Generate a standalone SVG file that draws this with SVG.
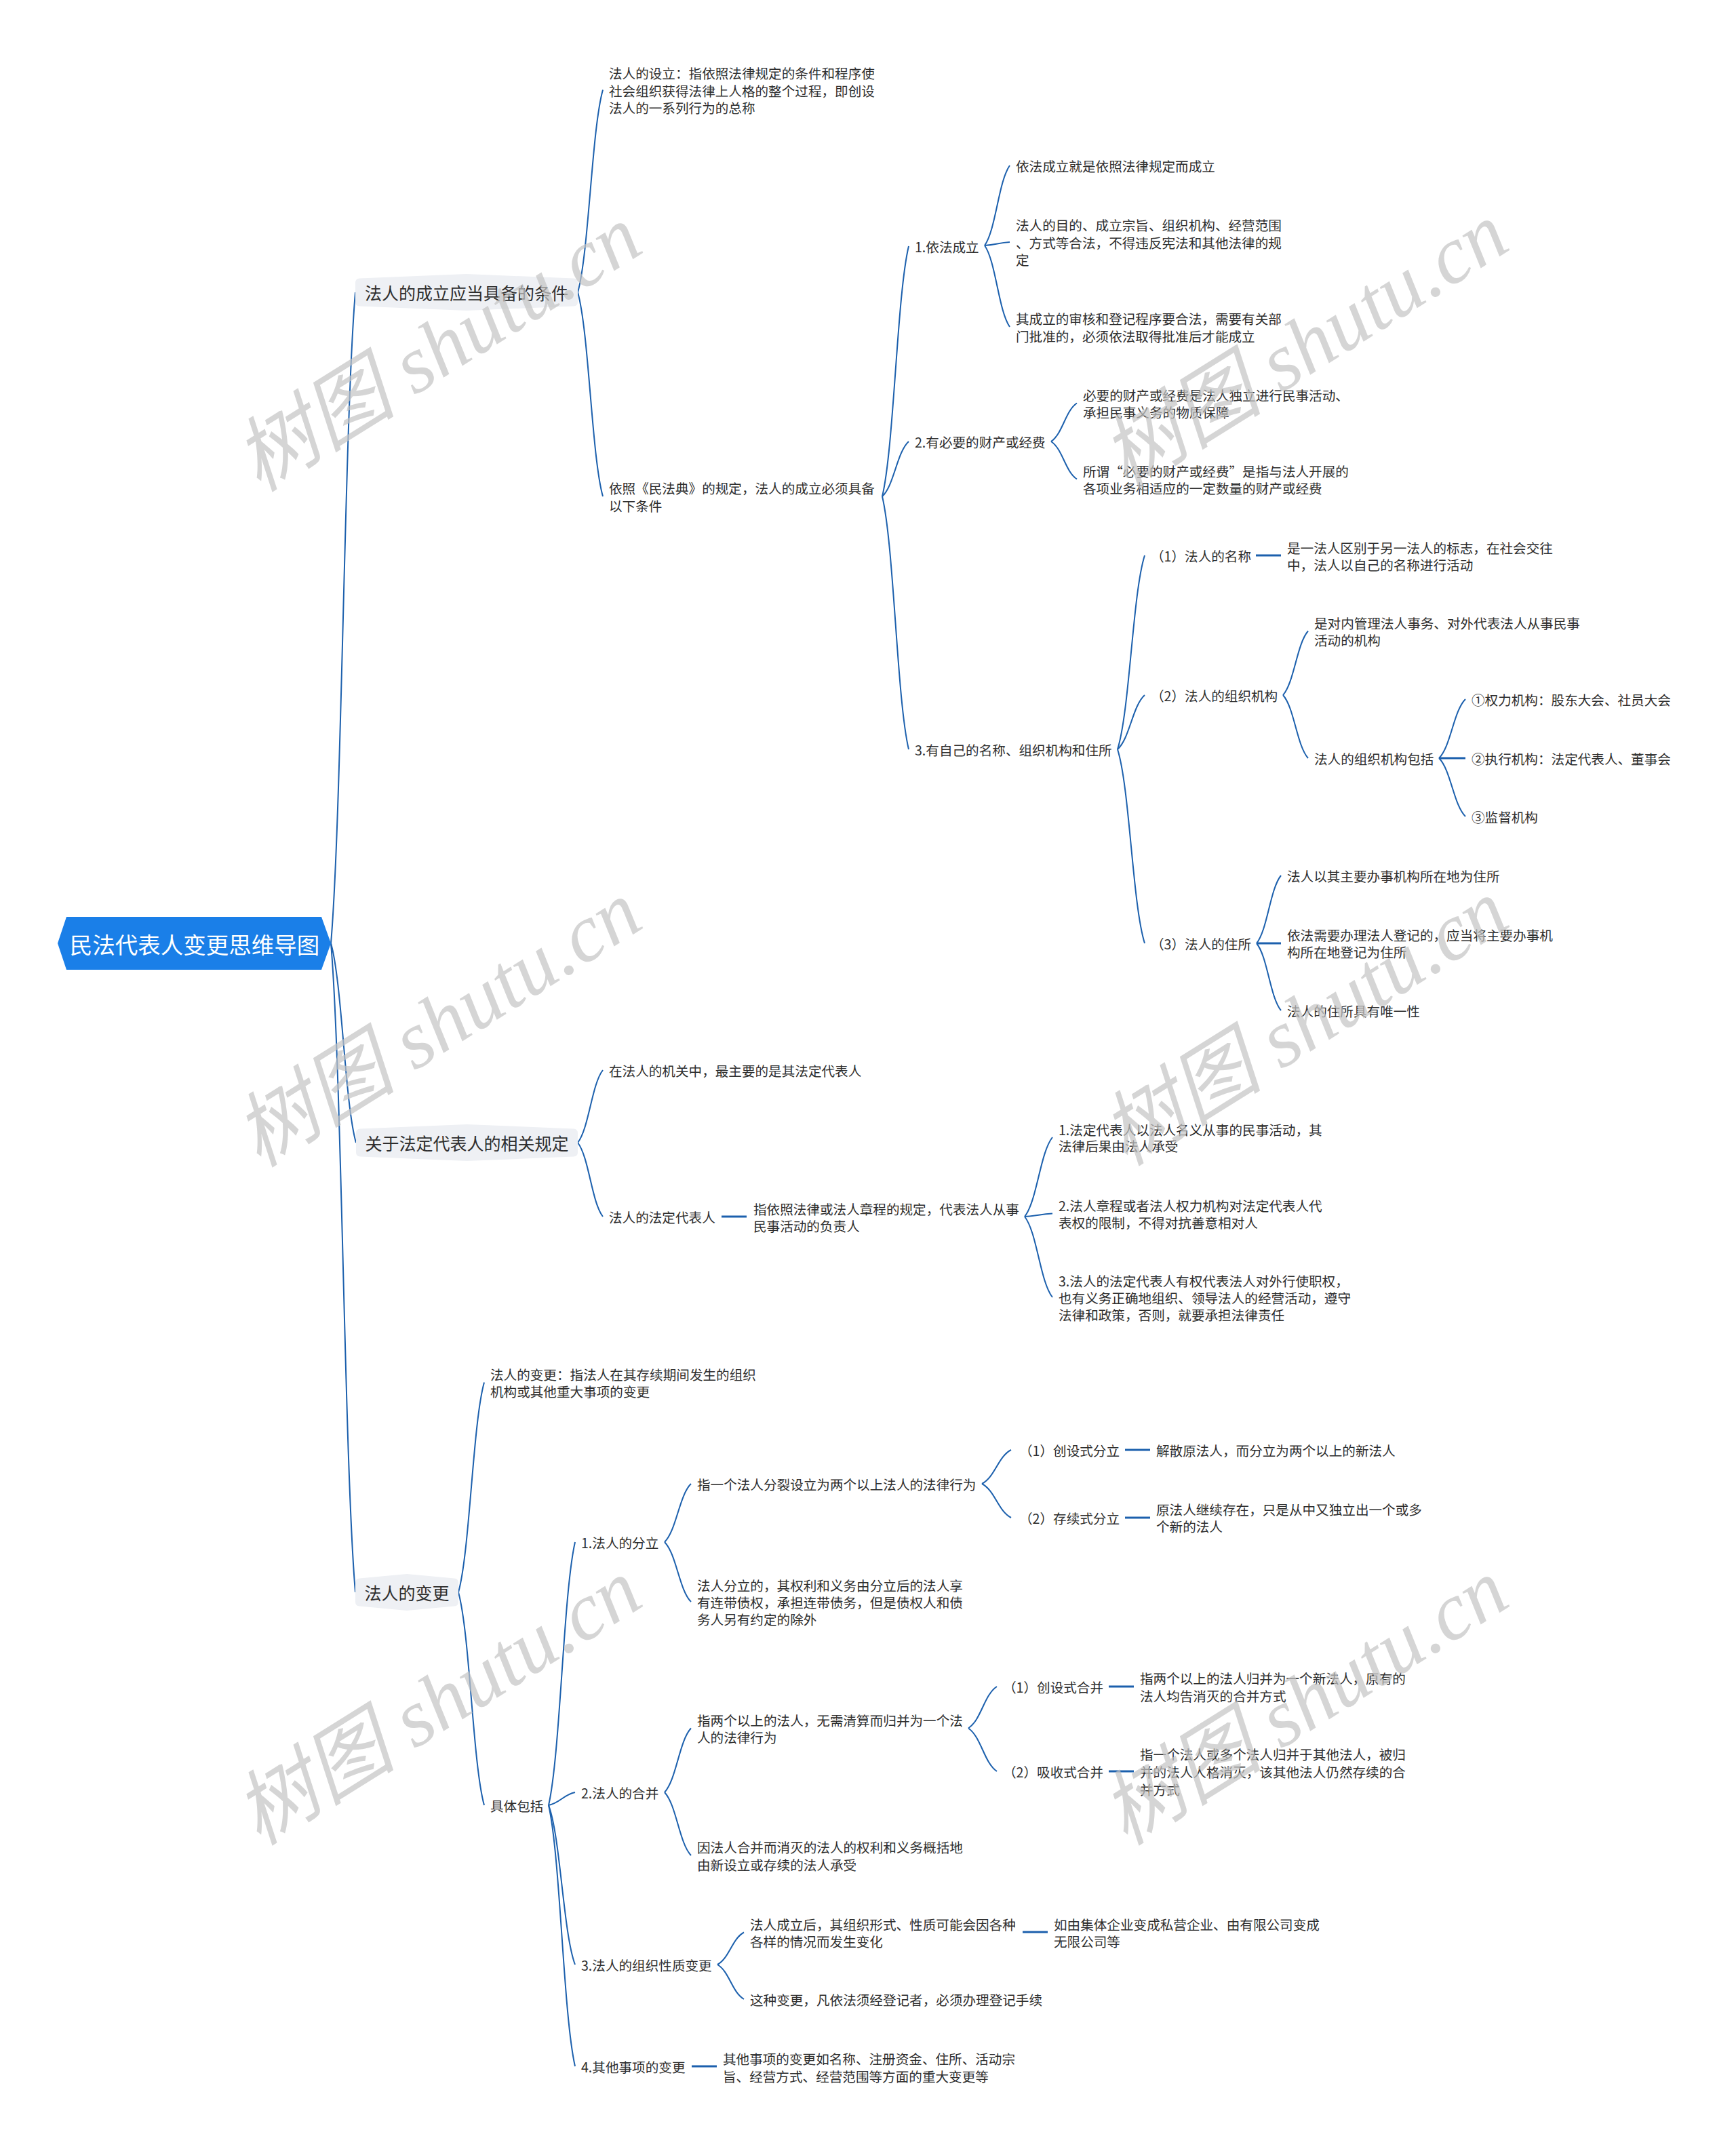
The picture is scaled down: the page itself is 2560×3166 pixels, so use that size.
<svg xmlns="http://www.w3.org/2000/svg" width="2560" height="3166" viewBox="0 0 2560 3166">
<style>
text{font-family:"Noto Sans CJK SC","Noto Sans",sans-serif;fill:#2e2e2e;dominant-baseline:central}
.t{font-size:19.6px}
.l1{font-size:25px;text-anchor:middle}
.root{font-size:33.5px;fill:#ffffff;text-anchor:middle}
.c path{fill:none;stroke:#1c60ad;stroke-width:2}
.c line{stroke:#1c60ad;stroke-width:3}
.box{fill:#eef0f4}
.wm{font-family:"Liberation Serif","Noto Sans CJK SC",serif;font-style:italic;font-size:120px;fill:#c4c4c4;opacity:0.7;text-anchor:middle}
</style>
<rect width="2560" height="3166" fill="#ffffff"/>
<g class="c" id="connectors">
<path d="M488,1391 C504.2,1199 507.8,623 524,431"/>
<path d="M488,1391 C504.65,1449.8 508.35,1626.2 525,1685"/>
<path d="M488,1391 C504.2,1582.4 507.8,2156.6 524,2348"/>
<path d="M852,431 C868.65,371.3 872.35,192.2 889,132.5"/>
<path d="M852,431 C868.65,491.2 872.35,671.8 889,732"/>
<path d="M1301,732 C1318.55,658.2 1322.45,436.8 1340,363"/>
<path d="M1301,732 C1318.55,715.8 1322.45,667.2 1340,651"/>
<path d="M1301,732 C1318.55,806.6 1322.45,1030.4 1340,1105"/>
<path d="M1452,362 C1468.65,338.4 1472.35,267.6 1489,244"/>
<path d="M1452,362 C1468.65,361 1472.35,358 1489,357"/>
<path d="M1452,362 C1468.65,386 1472.35,458 1489,482"/>
<path d="M1550,651 C1567.1,639.7 1570.9,605.8 1588,594.5"/>
<path d="M1550,651 C1567.1,662.1 1570.9,695.4 1588,706.5"/>
<path d="M1648,1105 C1666,1047.8 1670,876.2 1688,819"/>
<path d="M1648,1105 C1666,1089 1670,1041 1688,1025"/>
<path d="M1648,1105 C1666,1162.2 1670,1333.8 1688,1391"/>
<line x1="1852" y1="819" x2="1889" y2="819"/>
<path d="M1892,1025 C1908.65,1006.1 1912.35,949.4 1929,930.5"/>
<path d="M1892,1025 C1908.65,1043.6 1912.35,1099.4 1929,1118"/>
<path d="M2122,1118 C2139.55,1100.6 2143.45,1048.4 2161,1031"/>
<line x1="2122" y1="1118" x2="2161" y2="1118"/>
<path d="M2122,1118 C2139.55,1135.2 2143.45,1186.8 2161,1204"/>
<path d="M1853,1391 C1869.2,1371 1872.8,1311 1889,1291"/>
<line x1="1853" y1="1391" x2="1889" y2="1391"/>
<path d="M1853,1391 C1869.2,1410.8 1872.8,1470.2 1889,1490"/>
<path d="M852,1685 C868.65,1663.6 872.35,1599.4 889,1578"/>
<path d="M852,1685 C868.65,1706.8 872.35,1772.2 889,1794"/>
<line x1="1064" y1="1794" x2="1101" y2="1794"/>
<path d="M1511,1794 C1529.45,1770.6 1533.55,1700.4 1552,1677"/>
<path d="M1511,1794 C1529.45,1793.1 1533.55,1790.4 1552,1789.5"/>
<path d="M1511,1794 C1529.45,1817.8 1533.55,1889.2 1552,1913"/>
<path d="M676,2348 C693.1,2286.1 696.9,2100.4 714,2038.5"/>
<path d="M676,2348 C693.1,2410.8 696.9,2599.2 714,2662"/>
<path d="M809,2662 C826.55,2584.4 830.45,2351.6 848,2274"/>
<path d="M809,2662 C826.55,2658.2 830.45,2646.8 848,2643"/>
<path d="M809,2662 C826.55,2709 830.45,2850 848,2897"/>
<path d="M809,2662 C826.55,2739 830.45,2970 848,3047"/>
<path d="M980,2274 C997.55,2256.8 1001.45,2205.2 1019,2188"/>
<path d="M980,2274 C997.55,2291.6 1001.45,2344.4 1019,2362"/>
<path d="M1448,2188 C1467.35,2178 1471.65,2148 1491,2138"/>
<path d="M1448,2188 C1467.35,2198 1471.65,2228 1491,2238"/>
<line x1="1659" y1="2138" x2="1696" y2="2138"/>
<line x1="1659" y1="2238" x2="1696" y2="2238"/>
<path d="M980,2643 C997.55,2624.1 1001.45,2567.4 1019,2548.5"/>
<path d="M980,2643 C997.55,2661.6 1001.45,2717.4 1019,2736"/>
<path d="M1428,2548.5 C1446.9,2536.2 1451.1,2499.3 1470,2487"/>
<path d="M1428,2548.5 C1446.9,2561.2 1451.1,2599.3 1470,2612"/>
<line x1="1635" y1="2487" x2="1672" y2="2487"/>
<line x1="1635" y1="2612" x2="1672" y2="2612"/>
<path d="M1058,2897 C1075.55,2887.5 1079.45,2859 1097,2849.5"/>
<path d="M1058,2897 C1075.55,2907.2 1079.45,2937.8 1097,2948"/>
<line x1="1508" y1="2849" x2="1545" y2="2849"/>
<line x1="1020" y1="3047" x2="1057" y2="3047"/>
</g>
<g id="root">
<polygon points="85,1391 98,1352 474,1352 488,1391 474,1430 98,1430" fill="#1a7fe8"/>
<text class="root" x="287" y="1391">民法代表人变更思维导图</text>
</g>
<g id="n-A">
<path class="box" d="M524,417 Q524,411 530,410.5 L688,404 L846,410.5 Q852,411 852,417 L852,445 Q852,451 846,451.5 L688,458 L530,451.5 Q524,451 524,445 Z"/>
<text class="l1" x="688" y="431">法人的成立应当具备的条件</text>
</g>
<g id="n-B">
<path class="box" d="M525,1671 Q525,1665 531,1664.5 L688.5,1658 L846,1664.5 Q852,1665 852,1671 L852,1699 Q852,1705 846,1705.5 L688.5,1712 L531,1705.5 Q525,1705 525,1699 Z"/>
<text class="l1" x="688.5" y="1685">关于法定代表人的相关规定</text>
</g>
<g id="n-C">
<path class="box" d="M524,2334 Q524,2328 530,2327.5 L600,2321 L670,2327.5 Q676,2328 676,2334 L676,2362 Q676,2368 670,2368.5 L600,2375 L530,2368.5 Q524,2368 524,2362 Z"/>
<text class="l1" x="600" y="2348">法人的变更</text>
</g>
<g id="n-A1"><text class="t"><tspan x="898" y="107">法人的设立：指依照法律规定的条件和程序使</tspan><tspan x="898" y="133">社会组织获得法律上人格的整个过程，即创设</tspan><tspan x="898" y="158">法人的一系列行为的总称</tspan></text></g>
<g id="n-A2"><text class="t"><tspan x="898" y="719">依照《民法典》的规定，法人的成立必须具备</tspan><tspan x="898" y="745">以下条件</tspan></text></g>
<g id="n-A2a"><text class="t" x="1349" y="363">1.依法成立</text></g>
<g id="n-A2a1"><text class="t" x="1498" y="244">依法成立就是依照法律规定而成立</text></g>
<g id="n-A2a2"><text class="t"><tspan x="1498" y="331">法人的目的、成立宗旨、组织机构、经营范围</tspan><tspan x="1498" y="357">、方式等合法，不得违反宪法和其他法律的规</tspan><tspan x="1498" y="382">定</tspan></text></g>
<g id="n-A2a3"><text class="t"><tspan x="1498" y="469">其成立的审核和登记程序要合法，需要有关部</tspan><tspan x="1498" y="495">门批准的，必须依法取得批准后才能成立</tspan></text></g>
<g id="n-A2b"><text class="t" x="1349" y="651">2.有必要的财产或经费</text></g>
<g id="n-A2b1"><text class="t"><tspan x="1597" y="582">必要的财产或经费是法人独立进行民事活动、</tspan><tspan x="1597" y="607">承担民事义务的物质保障</tspan></text></g>
<g id="n-A2b2"><text class="t"><tspan x="1597" y="694">所谓“必要的财产或经费”是指与法人开展的</tspan><tspan x="1597" y="719">各项业务相适应的一定数量的财产或经费</tspan></text></g>
<g id="n-A2c"><text class="t" x="1349" y="1105">3.有自己的名称、组织机构和住所</text></g>
<g id="n-name"><text class="t" x="1697" y="819">（1）法人的名称</text></g>
<g id="n-name1"><text class="t"><tspan x="1898" y="807">是一法人区别于另一法人的标志，在社会交往</tspan><tspan x="1898" y="832">中，法人以自己的名称进行活动</tspan></text></g>
<g id="n-org"><text class="t" x="1697" y="1025">（2）法人的组织机构</text></g>
<g id="n-org1"><text class="t"><tspan x="1938" y="918">是对内管理法人事务、对外代表法人从事民事</tspan><tspan x="1938" y="943">活动的机构</tspan></text></g>
<g id="n-org2"><text class="t" x="1938" y="1118">法人的组织机构包括</text></g>
<g id="n-org2a"><text class="t" x="2170" y="1031">①权力机构：股东大会、社员大会</text></g>
<g id="n-org2b"><text class="t" x="2170" y="1118">②执行机构：法定代表人、董事会</text></g>
<g id="n-org2c"><text class="t" x="2170" y="1204">③监督机构</text></g>
<g id="n-dom"><text class="t" x="1697" y="1391">（3）法人的住所</text></g>
<g id="n-dom1"><text class="t" x="1898" y="1291">法人以其主要办事机构所在地为住所</text></g>
<g id="n-dom2"><text class="t"><tspan x="1898" y="1378">依法需要办理法人登记的，应当将主要办事机</tspan><tspan x="1898" y="1403">构所在地登记为住所</tspan></text></g>
<g id="n-dom3"><text class="t" x="1898" y="1490">法人的住所具有唯一性</text></g>
<g id="n-B1"><text class="t" x="898" y="1578">在法人的机关中，最主要的是其法定代表人</text></g>
<g id="n-B2"><text class="t" x="898" y="1794">法人的法定代表人</text></g>
<g id="n-B2a"><text class="t"><tspan x="1111" y="1782">指依照法律或法人章程的规定，代表法人从事</tspan><tspan x="1111" y="1807">民事活动的负责人</tspan></text></g>
<g id="n-B2a1"><text class="t"><tspan x="1561" y="1665">1.法定代表人以法人名义从事的民事活动，其</tspan><tspan x="1561" y="1689">法律后果由法人承受</tspan></text></g>
<g id="n-B2a2"><text class="t"><tspan x="1561" y="1777">2.法人章程或者法人权力机构对法定代表人代</tspan><tspan x="1561" y="1802">表权的限制，不得对抗善意相对人</tspan></text></g>
<g id="n-B2a3"><text class="t"><tspan x="1561" y="1888">3.法人的法定代表人有权代表法人对外行使职权，</tspan><tspan x="1561" y="1913">也有义务正确地组织、领导法人的经营活动，遵守</tspan><tspan x="1561" y="1938">法律和政策，否则，就要承担法律责任</tspan></text></g>
<g id="n-C1"><text class="t"><tspan x="723" y="2026">法人的变更：指法人在其存续期间发生的组织</tspan><tspan x="723" y="2051">机构或其他重大事项的变更</tspan></text></g>
<g id="n-C2"><text class="t" x="723" y="2662">具体包括</text></g>
<g id="n-split"><text class="t" x="857" y="2274">1.法人的分立</text></g>
<g id="n-split1"><text class="t" x="1028" y="2188">指一个法人分裂设立为两个以上法人的法律行为</text></g>
<g id="n-split1a"><text class="t" x="1503" y="2138">（1）创设式分立</text></g>
<g id="n-split1a1"><text class="t" x="1705" y="2138">解散原法人，而分立为两个以上的新法人</text></g>
<g id="n-split1b"><text class="t" x="1503" y="2238">（2）存续式分立</text></g>
<g id="n-split1b1"><text class="t"><tspan x="1705" y="2225">原法人继续存在，只是从中又独立出一个或多</tspan><tspan x="1705" y="2250">个新的法人</tspan></text></g>
<g id="n-split2"><text class="t"><tspan x="1028" y="2337">法人分立的，其权利和义务由分立后的法人享</tspan><tspan x="1028" y="2362">有连带债权，承担连带债务，但是债权人和债</tspan><tspan x="1028" y="2387">务人另有约定的除外</tspan></text></g>
<g id="n-merge"><text class="t" x="857" y="2643">2.法人的合并</text></g>
<g id="n-merge1"><text class="t"><tspan x="1028" y="2536">指两个以上的法人，无需清算而归并为一个法</tspan><tspan x="1028" y="2561">人的法律行为</tspan></text></g>
<g id="n-merge1a"><text class="t" x="1479" y="2487">（1）创设式合并</text></g>
<g id="n-merge1a1"><text class="t"><tspan x="1681" y="2474">指两个以上的法人归并为一个新法人，原有的</tspan><tspan x="1681" y="2500">法人均告消灭的合并方式</tspan></text></g>
<g id="n-merge1b"><text class="t" x="1479" y="2612">（2）吸收式合并</text></g>
<g id="n-merge1b1"><text class="t"><tspan x="1681" y="2586">指一个法人或多个法人归并于其他法人，被归</tspan><tspan x="1681" y="2612">并的法人人格消灭，该其他法人仍然存续的合</tspan><tspan x="1681" y="2638">并方式</tspan></text></g>
<g id="n-merge2"><text class="t"><tspan x="1028" y="2723">因法人合并而消灭的法人的权利和义务概括地</tspan><tspan x="1028" y="2749">由新设立或存续的法人承受</tspan></text></g>
<g id="n-nature"><text class="t" x="857" y="2897">3.法人的组织性质变更</text></g>
<g id="n-nature1"><text class="t"><tspan x="1106" y="2837">法人成立后，其组织形式、性质可能会因各种</tspan><tspan x="1106" y="2862">各样的情况而发生变化</tspan></text></g>
<g id="n-nature1a"><text class="t"><tspan x="1554" y="2837">如由集体企业变成私营企业、由有限公司变成</tspan><tspan x="1554" y="2862">无限公司等</tspan></text></g>
<g id="n-nature2"><text class="t" x="1106" y="2948">这种变更，凡依法须经登记者，必须办理登记手续</text></g>
<g id="n-other"><text class="t" x="857" y="3047">4.其他事项的变更</text></g>
<g id="n-other1"><text class="t"><tspan x="1066" y="3035">其他事项的变更如名称、注册资金、住所、活动宗</tspan><tspan x="1066" y="3061">旨、经营方式、经营范围等方面的重大变更等</tspan></text></g>
<g id="watermarks">
<text class="wm" x="646" y="514" transform="rotate(-32 646 514)">树图 shutu.cn</text>
<text class="wm" x="1924" y="510" transform="rotate(-32 1924 510)">树图 shutu.cn</text>
<text class="wm" x="646" y="1510" transform="rotate(-32 646 1510)">树图 shutu.cn</text>
<text class="wm" x="1924" y="1508" transform="rotate(-32 1924 1508)">树图 shutu.cn</text>
<text class="wm" x="646" y="2510" transform="rotate(-32 646 2510)">树图 shutu.cn</text>
<text class="wm" x="1924" y="2510" transform="rotate(-32 1924 2510)">树图 shutu.cn</text>
</g>
</svg>
